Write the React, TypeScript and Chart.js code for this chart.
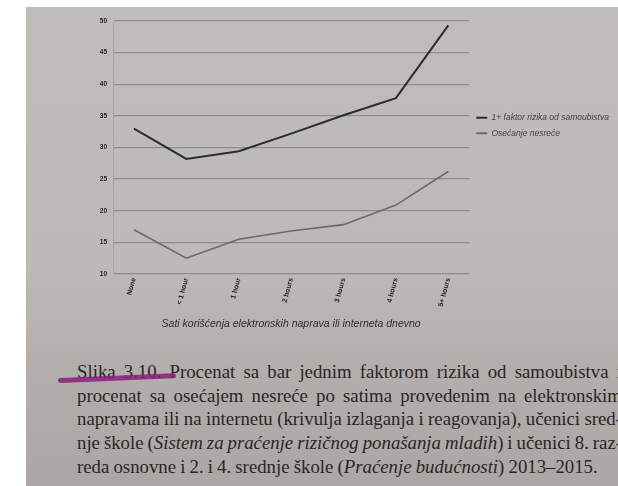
import React, { useEffect, useRef } from "react";
import { Chart, registerables } from "chart.js";

Chart.register(...registerables);

const categories = ["None", "< 1 hour", "1 hour", "2 hours", "3 hours", "4 hours", "5+ hours"];
const suicideRisk = [33.0, 28.2, 29.4, 32.2, 35.1, 37.8, 49.3];
const unhappiness = [17.0, 12.5, 15.5, 16.8, 17.8, 20.9, 26.2];
const seriesLabels = ["1+ faktor rizika od samoubistva", "Osećanje nesreće"];
const yMin = 10;
const yMax = 50;
const yStep = 5;
const axisTitle = "Sati korišćenja elektronskih naprava ili interneta dnevno";
const captionLines = [
  "Slika 3.10. Procenat sa bar jednim faktorom rizika od samoubistva i",
  "procenat sa osećajem nesreće po satima provedenim na elektronskim",
  "napravama ili na internetu (krivulja izlaganja i reagovanja), učenici sred-",
  "nje škole (*Sistem za praćenje rizičnog ponašanja mladih*) i učenici 8. raz-",
  "reda osnovne i 2. i 4. srednje škole (*Praćenje budućnosti*) 2013–2015.",
];

type Seg = { t: string; it: boolean };

function parseLine(line: string, startItalic: boolean): { words: Seg[][]; endItalic: boolean } {
  let it = startItalic;
  const words: Seg[][] = [];
  for (const w of line.split(" ")) {
    const segs: Seg[] = [];
    let buf = "";
    for (const ch of w) {
      if (ch === "*") {
        if (buf) segs.push({ t: buf, it });
        buf = "";
        it = !it;
      } else buf += ch;
    }
    if (buf) segs.push({ t: buf, it });
    words.push(segs);
  }
  return { words, endItalic: it };
}

function Caption() {
  let it = false;
  const rows = captionLines.map((line, i) => {
    const { words, endItalic } = parseLine(line, it);
    it = endItalic;
    const last = i === captionLines.length - 1;
    return (
      <div
        key={i}
        style={{
          display: "flex",
          justifyContent: last ? "flex-start" : "space-between",
          columnGap: last ? "0.22em" : "3px",
          whiteSpace: "nowrap",
          height: 23.7,
          lineHeight: "23.7px",
        }}
      >
        {words.map((segs, j) => (
          <span key={j}>
            {segs.map((s, k) => (
              <span key={k} style={{ fontStyle: s.it ? "italic" : "normal" }}>
                {s.t}
              </span>
            ))}
          </span>
        ))}
      </div>
    );
  });
  return (
    <div
      style={{
        position: "absolute",
        left: 77,
        top: 360,
        width: 545,
        fontFamily: "'Liberation Serif', 'DejaVu Serif', serif",
        fontSize: 18.8,
        color: "#2a2525",
      }}
    >
      {rows}
    </div>
  );
}

export default function App() {
  const ref = useRef<HTMLCanvasElement | null>(null);

  useEffect(() => {
    if (!ref.current) return;
    const chart = new Chart(ref.current, {
      type: "line",
      data: {
        datasets: [
          {
            label: seriesLabels[0],
            data: suicideRisk.map((v, i) => ({ x: i, y: v })),
            borderColor: "#2c2c2c",
            backgroundColor: "#2c2c2c",
            borderWidth: 2,
            pointRadius: 0,
            tension: 0,
          },
          {
            label: seriesLabels[1],
            data: unhappiness.map((v, i) => ({ x: i, y: v })),
            borderColor: "#6a6a6a",
            backgroundColor: "#6a6a6a",
            borderWidth: 1.6,
            pointRadius: 0,
            tension: 0,
          },
        ],
      },
      options: {
        responsive: false,
        animation: false,
        layout: { padding: { left: 0, top: 14, right: 1, bottom: 0 } },
        scales: {
          x: {
            type: "linear",
            min: -0.4,
            max: categories.length - 1 + 0.4,
            afterBuildTicks: (s: any) => {
              s.ticks = categories.map((_, i) => ({ value: i }));
            },
            afterFit: (s: any) => {
              s.height = 63;
            },
            grid: { display: false, drawTicks: false },
            border: { display: false },
            ticks: {
              autoSkip: false,
              minRotation: 75,
              maxRotation: 75,
              padding: 3,
              color: "#222",
              font: { family: "'Liberation Sans', sans-serif", size: 7, weight: "bold" },
              callback: (v: any) => categories[Math.round(Number(v))] ?? "",
            },
            title: {
              display: true,
              text: axisTitle,
              color: "#2f2c2c",
              font: { family: "'Liberation Sans', sans-serif", size: 10.5, style: "italic" },
              padding: { top: 0, bottom: 7 },
            },
          },
          y: {
            min: yMin,
            max: yMax,
            afterFit: (s: any) => {
              s.width = 87;
            },
            ticks: {
              stepSize: yStep,
              padding: 6,
              color: "#222",
              font: { family: "'Liberation Sans', sans-serif", size: 6.5, weight: "bold" },
            },
            grid: { color: "#8f8e8b", lineWidth: 1.3, drawTicks: false },
            border: { display: true, color: "#a9a8a4", width: 1 },
          },
        },
        plugins: {
          tooltip: { enabled: false },
          legend: {
            position: "right",
            align: "start",
            fullSize: false,
            title: { display: true, text: "", padding: { top: 76, bottom: 0 }, font: { size: 8 } },
            labels: {
              boxWidth: 11,
              boxHeight: 2,
              padding: 7,
              color: "#454242",
              font: { family: "'Liberation Sans', sans-serif", size: 8.5, style: "italic" },
              generateLabels: (c: any) =>
                Chart.defaults.plugins.legend.labels
                  .generateLabels(c)
                  .map((l: any) => ({ ...l, lineWidth: 0 })),
            },
          },
        },
      },
    } as any);
    return () => chart.destroy();
  }, []);

  return (
    <div
      style={{
        position: "fixed",
        left: 0,
        top: 0,
        width: 618,
        height: 486,
        background: "#ffffff",
        overflow: "hidden",
      }}
    >
      <div
        style={{
          position: "absolute",
          left: 26,
          top: 7,
          right: 0,
          bottom: 0,
          background: "linear-gradient(to bottom, #bebdb9 0%, #bbbab6 55%, #b3aeac 75%, #aca6a6 100%)",
        }}
      />
      <canvas
        ref={ref}
        width={592}
        height={330}
        style={{ position: "absolute", left: 26, top: 7, width: 592, height: 330 }}
      />
      <Caption />
      <div
        style={{
          position: "absolute",
          left: 58,
          top: 377.5,
          width: 118,
          height: 5,
          borderRadius: 3,
          background: "rgba(138, 30, 125, 0.85)",
          transform: "rotate(-2.4deg)",
          transformOrigin: "left center",
        }}
      />
    </div>
  );
}
